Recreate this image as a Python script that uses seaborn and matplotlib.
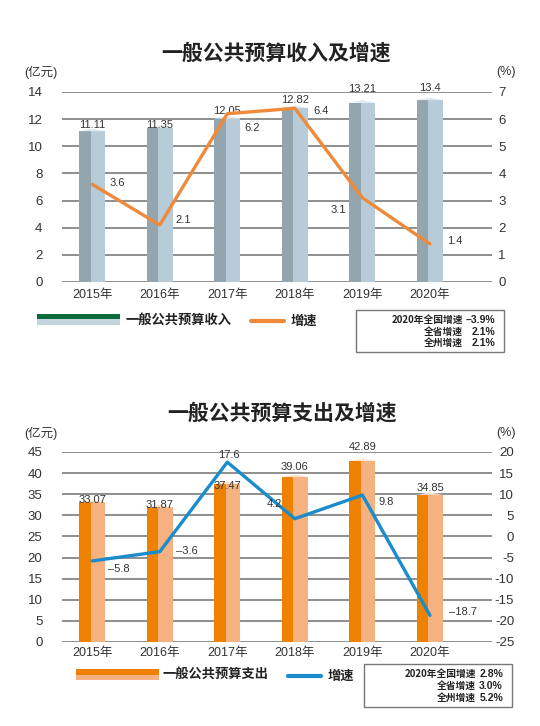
import matplotlib
matplotlib.use('Agg')
import matplotlib.pyplot as plt
import seaborn as sns
from matplotlib.patches import Rectangle, Polygon
from matplotlib.lines import Line2D

sns.set_theme(style='white')
plt.rcParams['font.family'] = ['Liberation Sans', 'Noto Sans CJK SC', 'DejaVu Sans']
plt.rcParams['axes.unicode_minus'] = False

# 数据
years = ['2015年', '2016年', '2017年', '2018年', '2019年', '2020年']
income = [11.11, 11.35, 12.05, 12.82, 13.21, 13.4]
income_growth = [3.6, 2.1, 6.2, 6.4, 3.1, 1.4]
spend = [33.07, 31.87, 37.47, 39.06, 42.89, 34.85]
spend_growth = [-5.8, -3.6, 17.6, 4.2, 9.8, -18.7]

income_note = [('2020年全国增速', '–3.9%'), ('全省增速', '2.1%'), ('全州增速', '2.1%')]
spend_note = [('2020年全国增速', '2.8%'), ('全省增速', '3.0%'), ('全州增速', '5.2%')]

W, H = 540, 726
fig = plt.figure(figsize=(W / 100, H / 100), dpi=100)


def fx(x):
    return x / W


def fy(y):
    return 1 - y / H


def fmt(v):
    return f'{v:g}'.replace('-', '–')


TXT = '#333333'
GRID = '#707070'


def draw_chart(top_px, bottom_px, values, growth, ylim, ystep, ylim2, ystep2,
               dark, light, cap, line_color, bar_dy, line_off, xpad, rpad):
    ax = fig.add_axes([fx(62), fy(bottom_px), fx(492) - fx(62), fy(top_px) - fy(bottom_px)])
    idx = list(range(len(years)))
    # 柱子（浅色正面）
    sns.barplot(x=years, y=values, ax=ax, color=light, width=0.385, saturation=1,
                edgecolor='none', zorder=2)
    # 柱子（深色侧面）
    ax.bar([i - 0.1925 for i in idx], values, width=0.17, align='edge',
           color=dark, edgecolor='none', zorder=3)
    # 顶面
    d = (ylim[1] - ylim[0]) / 190 * 2.5
    for i, v in zip(idx, values):
        ax.add_patch(Polygon([(i - 0.1925, v), (i - 0.0, v + d), (i + 0.1925, v)],
                             closed=True, facecolor=cap, edgecolor='none', zorder=3))
        ax.annotate(fmt(v), (i, v), xytext=(0, bar_dy[i]), textcoords='offset pixels',
                    ha='center', va='bottom', fontsize=8, color=TXT, zorder=6)
    yt = [ylim[0] + k * ystep for k in range(int(round((ylim[1] - ylim[0]) / ystep)) + 1)]
    ax.set_ylim(ylim)
    ax.set_yticks(yt)
    for y in yt:
        ax.axhline(y, color=GRID, lw=1.1, zorder=1)
    ax.set_xlim(-0.447, 5.918)
    for s in ax.spines.values():
        s.set_visible(False)
    ax.set_xlabel('')
    ax.set_ylabel('')
    ax.tick_params(axis='y', length=0, pad=14, labelsize=9.5, labelcolor=TXT)
    ax.tick_params(axis='x', length=0, pad=xpad, labelsize=9, labelcolor=TXT)

    ax2 = ax.twinx()
    sns.lineplot(x=idx, y=growth, ax=ax2, color=line_color, lw=2.4, zorder=5)
    yt2 = [ylim2[0] + k * ystep2 for k in range(int(round((ylim2[1] - ylim2[0]) / ystep2)) + 1)]
    ax2.set_ylim(ylim2)
    ax2.set_yticks(yt2)
    ax2.set_yticklabels([str(t) for t in yt2])
    ax2.set_xlim(-0.447, 5.918)
    for s in ax2.spines.values():
        s.set_visible(False)
    ax2.tick_params(axis='y', length=0, pad=rpad, labelsize=9.5, labelcolor=TXT)
    plt.setp(ax2.get_yticklabels(), ha='right')
    for i, g in zip(idx, growth):
        ax2.annotate(fmt(g), (i, g), xytext=line_off[i], textcoords='offset pixels',
                     ha='center', va='center', fontsize=8, color=TXT, zorder=6)
    return ax, ax2


# 上图：一般公共预算收入
draw_chart(92, 282, income, income_growth, (0, 14), 2, (0, 7), 1,
           '#93a5af', '#b7ccd8', '#dde8ef', '#ee8a3a',
           bar_dy=[1, -2, 2, 3, 9, 7],
           line_off=[(25, 1), (23, 5), (25, -14), (26, -3), (-24, -12), (25, 3)],
           xpad=5, rpad=10)

# 下图：一般公共预算支出
draw_chart(452, 642, spend, spend_growth, (0, 45), 5, (-25, 20), 5,
           '#ee8100', '#f5b17f', '#fce3cf', '#1a8ccc',
           bar_dy=[-3, -3, -7, 5, 9, 2],
           line_off=[(27, -8), (27, 1), (2, 7), (-20, 15), (24, -7), (33, 3)],
           xpad=3.5, rpad=16)

# 标题与单位
fig.text(fx(276), fy(53), '一般公共预算收入及增速', ha='center', va='center',
         fontsize=15, fontweight='bold', family=['Noto Sans CJK SC'], color='#222222')
fig.text(fx(282), fy(413), '一般公共预算支出及增速', ha='center', va='center',
         fontsize=15, fontweight='bold', family=['Noto Sans CJK SC'], color='#222222')
for y in (72, 433):
    fig.text(fx(41), fy(y), '(亿元)', ha='center', va='center', fontsize=9, color=TXT)
    fig.text(fx(506), fy(y), '(%)', ha='center', va='center', fontsize=9, color=TXT)

# 图例
fig.add_artist(Rectangle((fx(37), fy(319)), fx(120) - fx(37), fy(314) - fy(319),
                         transform=fig.transFigure, facecolor='#0b6b3a', edgecolor='none'))
fig.add_artist(Rectangle((fx(37), fy(325)), fx(120) - fx(37), fy(319) - fy(325),
                         transform=fig.transFigure, facecolor='#c3d5de', edgecolor='none'))
fig.text(fx(125), fy(320), '一般公共预算收入', ha='left', va='center', fontsize=9.5,
         fontweight='bold', family=['Noto Sans CJK SC'], color='#222222')
fig.add_artist(Line2D([fx(251), fx(284)], [fy(321), fy(321)], transform=fig.transFigure,
                      color='#ee8a3a', lw=3))
fig.text(fx(291), fy(321), '增速', ha='left', va='center', fontsize=9.5,
         fontweight='bold', family=['Noto Sans CJK SC'], color='#222222')

fig.add_artist(Rectangle((fx(75.5), fy(674.5)), fx(158.5) - fx(75.5), fy(669) - fy(674.5),
                         transform=fig.transFigure, facecolor='#ee8100', edgecolor='none'))
fig.add_artist(Rectangle((fx(75.5), fy(680)), fx(158.5) - fx(75.5), fy(674.5) - fy(680),
                         transform=fig.transFigure, facecolor='#f5b17f', edgecolor='none'))
fig.text(fx(162.5), fy(674), '一般公共预算支出', ha='left', va='center', fontsize=9.5,
         fontweight='bold', family=['Noto Sans CJK SC'], color='#222222')
fig.add_artist(Line2D([fx(288), fx(321)], [fy(676), fy(676)], transform=fig.transFigure,
                      color='#1a8ccc', lw=3))
fig.text(fx(328), fy(676), '增速', ha='left', va='center', fontsize=9.5,
         fontweight='bold', family=['Noto Sans CJK SC'], color='#222222')

# 注释框
def note_box(x0, y0, x1, y1, rows, label_right, value_right, row_y):
    fig.add_artist(Rectangle((fx(x0), fy(y1)), fx(x1) - fx(x0), fy(y0) - fy(y1),
                             transform=fig.transFigure, facecolor='none',
                             edgecolor='#777777', lw=1))
    for (lab, val), y in zip(rows, row_y):
        fig.text(fx(label_right), fy(y), lab, ha='right', va='center', fontsize=7,
                 fontweight='bold', family=['Noto Sans CJK SC'], color='#222222')
        fig.text(fx(value_right), fy(y), val, ha='right', va='center', fontsize=7.5,
                 fontweight='bold', color='#222222')


note_box(356, 310, 504, 352, income_note, 463, 495, [320, 332, 343])
note_box(364, 664, 512, 707, spend_note, 476, 503, [674, 686, 698])

fig.savefig('out.png', dpi=100)
